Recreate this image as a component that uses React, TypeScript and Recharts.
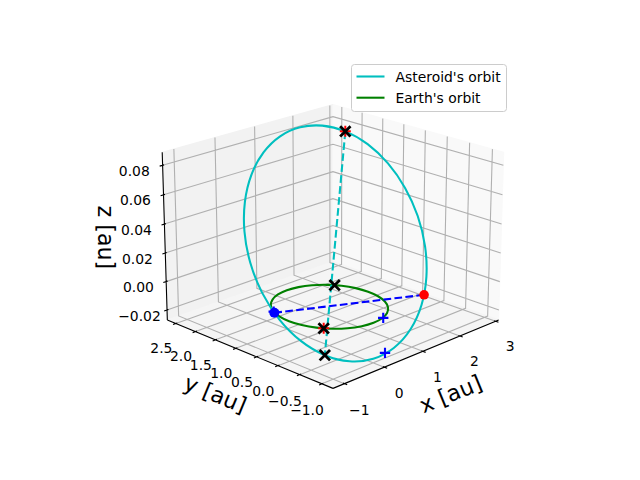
import React from 'react';
import { ScatterChart, Scatter, XAxis, YAxis, Legend } from 'recharts';

type P3 = [number, number, number];

// axis limits of the 3D box (au)
const X_LIMITS = [-1.19, 3.0];
const Y_LIMITS = [-1.166, 2.641];
const Z_LIMITS = [-0.0248, 0.0864];

const X_TICKS = [-1, 0, 1, 2, 3];
const X_TICK_LABELS = ['\u22121', '0', '1', '2', '3'];
const Y_TICKS = [-1, -0.5, 0, 0.5, 1, 1.5, 2, 2.5];
const Y_TICK_LABELS = ['\u22121.0', '\u22120.5', '0.0', '0.5', '1.0', '1.5', '2.0', '2.5'];
const Z_TICKS = [-0.02, 0, 0.02, 0.04, 0.06, 0.08];
const Z_TICK_LABELS = ['\u22120.02', '0.00', '0.02', '0.04', '0.06', '0.08'];
const AXIS_TITLES = ['x [au]', 'y [au]', 'z [au]'];

// orbit samples (x, y, z in au)
const ASTEROID_ORBIT: P3[] = [
  [-0.6469, -0.4875, -0.021], [-0.3458, -0.7756, -0.025], [0.0418, -0.9638, -0.0252],
  [0.4892, -1.0388, -0.0216], [0.9663, -0.9956, -0.0145], [1.4404, -0.8372, -0.0044],
  [1.8791, -0.5744, 0.008], [2.2526, -0.2252, 0.022], [2.5355, 0.1869, 0.0365],
  [2.7085, 0.6336, 0.0505], [2.7598, 1.0844, 0.0632], [2.6857, 1.5088, 0.0736],
  [2.4916, 1.8776, 0.081], [2.1905, 2.1658, 0.0849], [1.803, 2.354, 0.0851],
  [1.3555, 2.429, 0.0816], [0.8785, 2.3857, 0.0745], [0.4044, 2.2274, 0.0644],
  [-0.0343, 1.9646, 0.0519], [-0.4078, 1.6154, 0.038], [-0.6907, 1.2032, 0.0235],
  [-0.8638, 0.7566, 0.0094], [-0.915, 0.3058, -0.0032], [-0.841, -0.1186, -0.0136],
];
const EARTH_ORBIT: P3[] = [
  [1, 0, 0], [0.9659, 0.2588, 0], [0.866, 0.5, 0], [0.7071, 0.7071, 0],
  [0.5, 0.866, 0], [0.2588, 0.9659, 0], [0, 1, 0], [-0.2588, 0.9659, 0],
  [-0.5, 0.866, 0], [-0.7071, 0.7071, 0], [-0.866, 0.5, 0], [-0.9659, 0.2588, 0],
  [-1, 0, 0], [-0.9659, -0.2588, 0], [-0.866, -0.5, 0], [-0.7071, -0.7071, 0],
  [-0.5, -0.866, 0], [-0.2588, -0.9659, 0], [0, -1, 0], [0.2588, -0.9659, 0],
  [0.5, -0.866, 0], [0.7071, -0.7071, 0], [0.866, -0.5, 0], [0.9659, -0.2588, 0],
];
const NODE_LINE: P3[] = [[-0.9135, 0.4259, 0], [1.6099, -0.7507, 0]];
const APSE_LINE: P3[] = [[2.4916, 1.8776, 0.081], [-0.6469, -0.4875, -0.021]];
const RED_NODE: P3[] = [[1.6099, -0.7507, 0]];
const BLUE_NODE: P3[] = [[-0.9135, 0.4259, 0]];
const BLACK_CROSSES: P3[] = [
  [2.4916, 1.8776, 0.081], [-0.6469, -0.4875, -0.021], [0.7986, 0.6018, 0], [-0.7986, -0.6018, 0],
];
const RED_PLUSES: P3[] = [[2.4916, 1.8776, 0.081], [-0.7986, -0.6018, 0]];
const BLUE_PLUSES: P3[] = [[-0.8829, 0.4695, 0], [0.284, -0.967, 0], [0.293, -1.006, -0.0234]];

const LEGEND_LABELS = ["Asteroid's orbit", "Earth's orbit"];
const LEGEND_COLORS = ['#00bfbf', '#008000'];

// camera, same as matplotlib's default 3D axes with view_init(20, -135)
const ELEV = 20;
const AZIM = -135;
const EYE_DIST = 10;
const VIEW = [-0.095, 0.09];
const BOX = [4, 4, 3].map((v) => (v * 1.8294640721620434) / Math.hypot(4, 4, 3));
const LIMS = [X_LIMITS, Y_LIMITS, Z_LIMITS];

// the square 3D axes sits at 143.2..512.8 x 57.6..427.2 px; stretch the
// 2D domain over the whole 640x480 chart so nothing gets clipped
const PX_PER_UNIT = 369.6 / (VIEW[1] - VIEW[0]);
const X_DOMAIN = [VIEW[0] - 143.2 / PX_PER_UNIT, VIEW[0] + (640 - 143.2) / PX_PER_UNIT];
const Y_DOMAIN = [VIEW[0] - (480 - 427.2) / PX_PER_UNIT, VIEW[0] + 427.2 / PX_PER_UNIT];

const el = (ELEV * Math.PI) / 180;
const az = (AZIM * Math.PI) / 180;
const VW = [Math.cos(el) * Math.cos(az), Math.cos(el) * Math.sin(az), Math.sin(el)];
const un = Math.hypot(VW[0], VW[1]);
const VU = [-VW[1] / un, VW[0] / un, 0];
const VV = [
  VW[1] * VU[2] - VW[2] * VU[1],
  VW[2] * VU[0] - VW[0] * VU[2],
  VW[0] * VU[1] - VW[1] * VU[0],
];
const dot = (a: number[], b: number[]) => a[0] * b[0] + a[1] * b[1] + a[2] * b[2];

const project = (p: P3) => {
  const w = p.map((v, i) => ((v - LIMS[i][0]) / (LIMS[i][1] - LIMS[i][0])) * BOX[i] - BOX[i] / 2);
  const depth = EYE_DIST - dot(VW, w);
  return { px: dot(VU, w) / depth, py: dot(VV, w) / depth };
};
const toPoints = (list: P3[]) => list.map(project);

// box edges, padded by 1/48 of the range like mplot3d
const pad = (l: number[]) => [l[0] - (l[1] - l[0]) / 48, l[1] + (l[1] - l[0]) / 48];
const [xlo, xhi] = pad(X_LIMITS);
const [ylo, yhi] = pad(Y_LIMITS);
const [zlo, zhi] = pad(Z_LIMITS);
const dX = (X_LIMITS[1] - X_LIMITS[0]) / 12;
const dY = (Y_LIMITS[1] - Y_LIMITS[0]) / 12;
const dZ = (Z_LIMITS[1] - Z_LIMITS[0]) / 12;
const TICK_SHIFT = 1.037;
const TITLE_SHIFT = 2.255;

const panes = {
  left: toPoints([[xlo, yhi, zlo], [xhi, yhi, zlo], [xhi, yhi, zhi], [xlo, yhi, zhi]]),
  right: toPoints([[xhi, ylo, zlo], [xhi, yhi, zlo], [xhi, yhi, zhi], [xhi, ylo, zhi]]),
  floor: toPoints([[xlo, ylo, zlo], [xhi, ylo, zlo], [xhi, yhi, zlo], [xlo, yhi, zlo]]),
};

const gridPoints = toPoints([
  ...X_TICKS.flatMap((t): P3[] => [[t, ylo, zlo], [t, yhi, zlo], [t, yhi, zhi]]),
  ...Y_TICKS.flatMap((t): P3[] => [[xlo, t, zlo], [xhi, t, zlo], [xhi, t, zhi]]),
  ...Z_TICKS.flatMap((t): P3[] => [[xlo, yhi, t], [xhi, yhi, t], [xhi, ylo, t]]),
]);

const axisLinePoints = toPoints([
  [xlo, ylo, zlo], [xhi, ylo, zlo],
  [xlo, ylo, zlo], [xlo, yhi, zlo],
  [xlo, yhi, zlo], [xlo, yhi, zhi],
  ...X_TICKS.flatMap((t): P3[] => [[t, ylo - 0.2 * dY, zlo], [t, ylo + 0.1 * dY, zlo]]),
  ...Y_TICKS.flatMap((t): P3[] => [[xlo - 0.2 * dX, t, zlo], [xlo + 0.1 * dX, t, zlo]]),
  ...Z_TICKS.flatMap((t): P3[] => [[xlo - 0.2 * dX, yhi, t], [xlo + 0.1 * dX, yhi, t]]),
]);

const tickLabels = [
  ...X_TICKS.map((t, i) => ({ ...project([t, ylo - TICK_SHIFT * dY, zlo - TICK_SHIFT * dZ]), label: X_TICK_LABELS[i] })),
  ...Y_TICKS.map((t, i) => ({ ...project([xlo - TICK_SHIFT * dX, t, zlo - TICK_SHIFT * dZ]), label: Y_TICK_LABELS[i] })),
  ...Z_TICKS.map((t, i) => ({ ...project([xlo - TICK_SHIFT * dX, yhi + TICK_SHIFT * dY, t]), label: Z_TICK_LABELS[i] })),
];

const edgeAngle = (a: P3, b: P3) => {
  const p = project(a);
  const q = project(b);
  let ang = (Math.atan2(q.py - p.py, q.px - p.px) * 180) / Math.PI;
  ang = (ang + 360) % 180;
  if (ang > 90) ang -= 180;
  return -ang;
};

const axisTitles = [
  {
    ...project([(xlo + xhi) / 2, ylo - TITLE_SHIFT * dY, zlo - TITLE_SHIFT * dZ]),
    label: AXIS_TITLES[0],
    angle: edgeAngle([xlo, ylo, zlo], [xhi, ylo, zlo]),
  },
  {
    ...project([xlo - TITLE_SHIFT * dX, (ylo + yhi) / 2, zlo - TITLE_SHIFT * dZ]),
    label: AXIS_TITLES[1],
    angle: edgeAngle([xlo, ylo, zlo], [xlo, yhi, zlo]),
  },
  // the reference reads this one top to bottom
  { ...project([xlo - TITLE_SHIFT * dX, yhi + TITLE_SHIFT * dY, (zlo + zhi) / 2]), label: AXIS_TITLES[2], angle: 90 },
];

type Pt = { x: number; y: number };
const hidden = () => <g />;

const polygon = (fill: string) => (props: any) => (
  <path
    d={props.points.map((p: Pt, i: number) => `${i ? 'L' : 'M'}${p.x},${p.y}`).join('') + 'Z'}
    fill={fill}
    stroke={fill}
    strokeWidth={1}
  />
);

const segments = (size: number, stroke: string, width: number, dash?: string) => (props: any) => {
  const pts: Pt[] = props.points;
  let d = '';
  for (let i = 0; i + size <= pts.length; i += size) {
    d += pts.slice(i, i + size).map((p, j) => `${j ? 'L' : 'M'}${p.x},${p.y}`).join('');
  }
  return <path d={d} fill="none" stroke={stroke} strokeWidth={width} strokeDasharray={dash} />;
};

const closedCurve = (stroke: string) => (props: any) => {
  const pts: Pt[] = props.points;
  const n = pts.length;
  let d = `M${pts[0].x},${pts[0].y}`;
  for (let i = 0; i < n; i++) {
    const p0 = pts[(i - 1 + n) % n];
    const p1 = pts[i];
    const p2 = pts[(i + 1) % n];
    const p3 = pts[(i + 2) % n];
    d += `C${p1.x + (p2.x - p0.x) / 6},${p1.y + (p2.y - p0.y) / 6} ${p2.x - (p3.x - p1.x) / 6},${p2.y - (p3.y - p1.y) / 6} ${p2.x},${p2.y}`;
  }
  return <path d={d + 'Z'} fill="none" stroke={stroke} strokeWidth={2.08} />;
};

const dot2 = (color: string, r: number) => (props: any) => <circle cx={props.cx} cy={props.cy} r={r} fill={color} />;

const cross = (color: string, h: number, w: number) => (props: any) => {
  const { cx, cy } = props;
  return (
    <path
      d={`M${cx - h},${cy - h}L${cx + h},${cy + h}M${cx - h},${cy + h}L${cx + h},${cy - h}`}
      stroke={color}
      strokeWidth={w}
    />
  );
};

const plus = (color: string, h: number, w: number) => (props: any) => {
  const { cx, cy } = props;
  return <path d={`M${cx - h},${cy}L${cx + h},${cy}M${cx},${cy - h}L${cx},${cy + h}`} stroke={color} strokeWidth={w} />;
};

const FONT = 'DejaVu Sans, Liberation Sans, sans-serif';

const tickText = (props: any) => (
  <text x={props.cx} y={props.cy} dy={10.6} textAnchor="middle" fontSize={13.9} fontFamily={FONT} fill="#000">
    {props.payload.label}
  </text>
);

const titleText = (props: any) => (
  <text
    x={props.cx}
    y={props.cy}
    dy={5.8}
    textAnchor="middle"
    fontSize={22.2}
    fontFamily={FONT}
    fill="#000"
    transform={`rotate(${props.payload.angle} ${props.cx} ${props.cy})`}
  >
    {props.payload.label}
  </text>
);

const renderLegend = () => (
  <svg width={157} height={49} style={{ display: 'block' }}>
    <rect x={0.5} y={0.5} width={155} height={47} rx={3} fill="#fff" fillOpacity={0.8} stroke="#cccccc" />
    {LEGEND_LABELS.map((label, i) => (
      <g key={label}>
        <line x1={5.5} x2={33.5} y1={12.5 + i * 21.2} y2={12.5 + i * 21.2} stroke={LEGEND_COLORS[i]} strokeWidth={2.08} />
        <text x={44.5} y={18.2 + i * 21.2} fontSize={13.9} fontFamily={FONT} fill="#000">
          {label}
        </text>
      </g>
    ))}
  </svg>
);

export default function App() {
  return (
    <div style={{ position: 'absolute', left: 0, top: 0, width: 640, height: 480, background: '#fff' }}>
      <ScatterChart width={640} height={480} margin={{ top: 0, right: 0, bottom: 0, left: 0 }}>
        <XAxis type="number" dataKey="px" domain={X_DOMAIN} allowDataOverflow hide />
        <YAxis type="number" dataKey="py" domain={Y_DOMAIN} allowDataOverflow hide />

        <Scatter data={panes.left} shape={hidden} line={polygon('#f2f2f2')} legendType="none" isAnimationActive={false} />
        <Scatter data={panes.right} shape={hidden} line={polygon('#f9f9f9')} legendType="none" isAnimationActive={false} />
        <Scatter data={panes.floor} shape={hidden} line={polygon('#f5f5f5')} legendType="none" isAnimationActive={false} />
        <Scatter data={gridPoints} shape={hidden} line={segments(3, '#b0b0b0', 1.1)} legendType="none" isAnimationActive={false} />
        <Scatter data={axisLinePoints} shape={hidden} line={segments(2, '#000', 1.1)} legendType="none" isAnimationActive={false} />
        <Scatter data={tickLabels} shape={tickText} legendType="none" isAnimationActive={false} />
        <Scatter data={axisTitles} shape={titleText} legendType="none" isAnimationActive={false} />

        <Scatter
          name={LEGEND_LABELS[1]}
          data={toPoints(EARTH_ORBIT)}
          shape={hidden}
          line={closedCurve(LEGEND_COLORS[1])}
          fill={LEGEND_COLORS[1]}
          legendType="plainline"
          isAnimationActive={false}
        />
        <Scatter
          name={LEGEND_LABELS[0]}
          data={toPoints(ASTEROID_ORBIT)}
          shape={hidden}
          line={closedCurve(LEGEND_COLORS[0])}
          fill={LEGEND_COLORS[0]}
          legendType="plainline"
          isAnimationActive={false}
        />
        <Scatter data={toPoints(NODE_LINE)} shape={hidden} line={segments(2, '#0000ff', 2.08, '7.7 3.3')} legendType="none" isAnimationActive={false} />
        <Scatter data={toPoints(APSE_LINE)} shape={hidden} line={segments(2, '#00bfbf', 2.08, '7.7 3.3')} legendType="none" isAnimationActive={false} />
        <Scatter data={toPoints(RED_NODE)} shape={dot2('#ff0000', 4.8)} legendType="none" isAnimationActive={false} />
        <Scatter data={toPoints(BLUE_NODE)} shape={dot2('#0000ff', 5)} legendType="none" isAnimationActive={false} />
        <Scatter data={toPoints(RED_PLUSES)} shape={plus('#ff0000', 5.5, 2)} legendType="none" isAnimationActive={false} />
        <Scatter data={toPoints(BLACK_CROSSES)} shape={cross('#000', 5.2, 2.8)} legendType="none" isAnimationActive={false} />
        <Scatter data={toPoints(BLUE_PLUSES)} shape={plus('#0000ff', 5.2, 2.1)} legendType="none" isAnimationActive={false} />

        <Legend
          layout="vertical"
          align="center"
          verticalAlign="middle"
          content={renderLegend}
          wrapperStyle={{ left: 350.5, top: 63.5, width: 157, height: 49 }}
        />
      </ScatterChart>
    </div>
  );
}
